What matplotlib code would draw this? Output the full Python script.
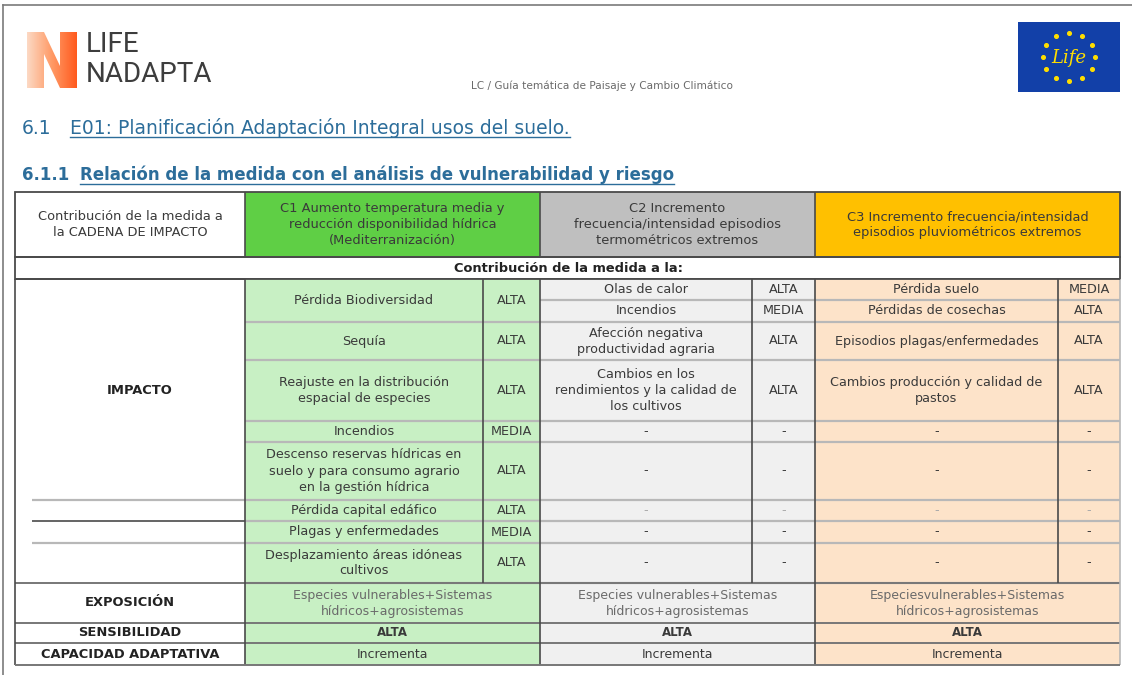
import matplotlib
matplotlib.use("Agg")
import matplotlib.pyplot as plt
import numpy as np
from matplotlib.patches import Rectangle, Polygon
from matplotlib import font_manager

# ---- data -------------------------------------------------------------
header_col0 = "Contribución de la medida a\nla CADENA DE IMPACTO"
chain_titles = [
    "C1 Aumento temperatura media y\nreducción disponibilidad hídrica\n(Mediterranización)",
    "C2 Incremento\nfrecuencia/intensidad episodios\ntermométricos extremos",
    "C3 Incremento frecuencia/intensidad\nepisodios pluviométricos extremos",
]
c1_impacts = ["Pérdida Biodiversidad", "Sequía",
              "Reajuste en la distribución\nespacial de especies", "Incendios",
              "Descenso reservas hídricas en\nsuelo y para consumo agrario\nen la gestión hídrica",
              "Pérdida capital edáfico", "Plagas y enfermedades",
              "Desplazamiento áreas idóneas\ncultivos"]
c1_levels = ["ALTA", "ALTA", "ALTA", "MEDIA", "ALTA", "ALTA", "MEDIA", "ALTA"]
c2_impacts = ["Olas de calor", "Incendios", "Afección negativa\nproductividad agraria",
              "Cambios en los\nrendimientos y la calidad de\nlos cultivos",
              "-", "-", "-", "-", "-"]
c2_levels = ["ALTA", "MEDIA", "ALTA", "ALTA", "-", "-", "-", "-", "-"]
c3_impacts = ["Pérdida suelo", "Pérdidas de cosechas", "Episodios plagas/enfermedades",
              "Cambios producción y calidad de\npastos", "-", "-", "-", "-", "-"]
c3_levels = ["MEDIA", "ALTA", "ALTA", "ALTA", "-", "-", "-", "-", "-"]
exposicion = ["Especies vulnerables+Sistemas\nhídricos+agrosistemas",
              "Especies vulnerables+Sistemas\nhídricos+agrosistemas",
              "Especiesvulnerables+Sistemas\nhídricos+agrosistemas"]
sensibilidad = ["ALTA", "ALTA", "ALTA"]
capacidad = ["Incrementa", "Incrementa", "Incrementa"]
row_labels = ["EXPOSICIÓN", "SENSIBILIDAD", "CAPACIDAD ADAPTATIVA"]

# ---- layout (pixels) --------------------------------------------------
W, H = 1132, 675
X0, X1 = 15, 1120
chain_x = [245, 540, 815, 1120]
val_x = [483, 752, 1058]
c1_edges = [279, 322, 360, 421, 442, 500, 521, 543, 583]
c23_edges = [279, 300, 322, 360, 421, 442, 500, 521, 543, 583]
bottom_edges = [583, 623, 643, 665]
head_colors = ["#5fcf45", "#bfbfbf", "#ffc000"]
body_colors = ["#c8f0c4", "#f0f0f0", "#fde3c9"]
dark = "#4a4a4a"
light = "#b8b8b8"
txt = "#3a3a3a"

names = [f.name for f in font_manager.fontManager.ttflist]
logo_font = "Roboto" if "Roboto" in names else "DejaVu Sans"
plt.rcParams["font.family"] = ["DejaVu Sans"]

fig = plt.figure(figsize=(W / 100, H / 100), dpi=100)
ax = fig.add_axes([0, 0, 1, 1])
ax.set_xlim(0, W)
ax.set_ylim(H, 0)
ax.axis("off")


def rect(x0, y0, x1, y1, fc, ec="none", lw=0):
    ax.add_patch(Rectangle((x0, y0), x1 - x0, y1 - y0, facecolor=fc,
                           edgecolor=ec, linewidth=lw))


def hline(y, x0, x1, c=light, lw=1.6):
    ax.plot([x0, x1], [y, y], color=c, lw=lw, solid_capstyle="butt")


def vline(x, y0, y1, c=dark, lw=1.2):
    ax.plot([x, x], [y0, y1], color=c, lw=lw, solid_capstyle="butt")


def cell_text(x, y, s, size=9.2, weight="normal", color=txt):
    ax.text(x, y, s, ha="center", va="center", fontsize=size, fontweight=weight,
            color=color, linespacing=1.3)


# page frame (top and left edges visible)
ax.plot([3, 1132], [5, 5], color="#7a7a7a", lw=1.2)
ax.plot([3, 3], [5, 675], color="#7a7a7a", lw=1.2)

# logo N with gradient
n_pts = [(27, 88), (27, 32), (44, 32), (60, 66), (60, 32), (77, 32),
         (77, 88), (60, 88), (44, 54), (44, 88)]
poly = Polygon(n_pts, closed=True, facecolor="none", edgecolor="none")
ax.add_patch(poly)
grad = np.linspace(0, 1, 200).reshape(1, -1)
im = ax.imshow(grad, extent=(27, 77, 88, 32), cmap=matplotlib.colors.LinearSegmentedColormap.from_list(
    "n", ["#fcd9c4", "#ff9a66", "#ff5a1e"]), aspect="auto", zorder=2)
im.set_clip_path(poly)
ax.text(86, 44, "LIFE", fontsize=20, color="#3d3d3d", va="center", ha="left",
        family=logo_font)
ax.text(86, 74, "NADAPTA", fontsize=20, color="#3d3d3d", va="center", ha="left",
        family=logo_font)
ax.text(471, 86, "LC / Guía temática de Paisaje y Cambio Climático", fontsize=7.6,
        color="#6a6a6a", va="center", ha="left")

# EU LIFE flag
rect(1018, 22, 1120, 92, "#1240a8")
ang = np.linspace(0, 2 * np.pi, 13)[:-1]
ax.scatter(1069 + 26 * np.cos(ang), 57 + 24 * np.sin(ang), s=7, color="#ffde00", zorder=3)
ax.text(1069, 58, "Life", fontsize=13, color="#ffde00", style="italic",
        ha="center", va="center", family="DejaVu Serif")

# headings
blue = "#2c6d9a"
h1a = ax.text(22, 128, "6.1", fontsize=13.5, color=blue, va="center", ha="left")
h1b = ax.text(70, 128, "E01: Planificación Adaptación Integral usos del suelo.",
              fontsize=13.5, color=blue, va="center", ha="left")
h2a = ax.text(22, 175, "6.1.1", fontsize=12, color=blue, va="center", ha="left",
              fontweight="bold")
h2b = ax.text(80, 175, "Relación de la medida con el análisis de vulnerabilidad y riesgo",
              fontsize=12, color=blue, va="center", ha="left", fontweight="bold")

# header row
rect(X0, 192, chain_x[0], 257, "white")
for i in range(3):
    rect(chain_x[i], 192, chain_x[i + 1], 257, head_colors[i])
    cell_text((chain_x[i] + chain_x[i + 1]) / 2, 224.5, chain_titles[i], size=9.4)
cell_text((X0 + chain_x[0]) / 2, 224.5, header_col0, size=9.4)
ax.add_patch(Rectangle((X0, 192), X1 - X0, 65, fill=False, edgecolor=dark, lw=1.3))
for x in chain_x[:-1]:
    vline(x, 192, 257)

# "Contribución" row
ax.add_patch(Rectangle((X0, 257), X1 - X0, 22, fill=False, edgecolor=dark, lw=1.3))
cell_text(568, 268, "Contribución de la medida a la:", size=9.4, weight="bold", color="#222")

# body fills
for i in range(3):
    rect(chain_x[i], 279, chain_x[i + 1], 665, body_colors[i])

# C1 impacts
for k in range(len(c1_impacts)):
    y0, y1 = c1_edges[k], c1_edges[k + 1]
    ym = (y0 + y1) / 2
    cell_text((chain_x[0] + val_x[0]) / 2, ym, c1_impacts[k])
    cell_text((val_x[0] + chain_x[1]) / 2, ym, c1_levels[k])
    hline(y1, chain_x[0], chain_x[1])

# C2 / C3 impacts
for ci, (imp, lev) in enumerate([(c2_impacts, c2_levels), (c3_impacts, c3_levels)]):
    xa, xv, xb = chain_x[ci + 1], val_x[ci + 1], chain_x[ci + 2]
    for k in range(len(imp)):
        y0, y1 = c23_edges[k], c23_edges[k + 1]
        ym = (y0 + y1) / 2
        faint = "#aaaaaa" if y0 == 500 else txt
        cell_text((xa + xv) / 2, ym, imp[k], color=faint)
        cell_text((xv + xb) / 2, ym, lev[k], color=faint)
        hline(y1, xa, xb)

# IMPACTO label and column 0 partial lines
cell_text((X0 + chain_x[0]) / 2 + 10, 390, "IMPACTO", size=9.4, weight="bold", color="#222")
hline(500, 32, chain_x[0], light)
hline(521, 32, chain_x[0], dark, 1.2)
hline(543, 32, chain_x[0], light)

# bottom rows
bottom_data = [exposicion, sensibilidad, capacidad]
for r in range(3):
    y0, y1 = bottom_edges[r], bottom_edges[r + 1]
    ym = (y0 + y1) / 2
    cell_text((X0 + chain_x[0]) / 2, ym, row_labels[r], size=9.4, weight="bold", color="#222")
    for i in range(3):
        wt = "bold" if r == 1 else "normal"
        col = "#6a6a6a" if r == 0 else txt
        cell_text((chain_x[i] + chain_x[i + 1]) / 2, ym, bottom_data[r][i],
                  size=9 if r != 1 else 8.5, weight=wt, color=col)
    hline(y0, X0, X1, "#777777", 1.4)

# verticals
vline(X0, 279, 665)
vline(X1, 279, 665, light)
for x in chain_x[:-1]:
    vline(x, 279, 665)
for x in val_x:
    vline(x, 279, 583)
hline(279, X0, X1, dark, 1.3)
hline(665, X0, X1, "#777777", 1.4)

# underlines for headings
fig.canvas.draw()
inv = ax.transData.inverted()
for t, off in [(h1b, 9), (h2b, 9)]:
    bb = t.get_window_extent()
    (xa, _), (xb, _) = inv.transform([(bb.x0, bb.y0), (bb.x1, bb.y0)])
    y = t.get_position()[1] + off
    ax.plot([xa, xb], [y, y], color=blue, lw=1)

fig.savefig("out.png", dpi=100)
